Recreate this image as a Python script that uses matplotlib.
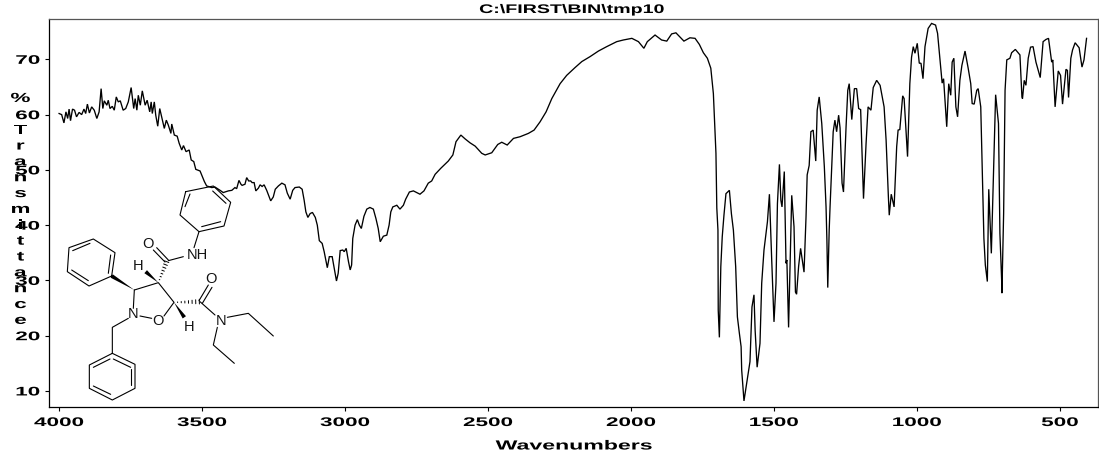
import matplotlib
matplotlib.use("Agg")
import matplotlib.pyplot as plt
import matplotlib.patheffects as pe
from matplotlib.transforms import Affine2D

title_text = r"C:\FIRST\BIN\tmp10"
x_label = "Wavenumbers"
y_letters = list("%") + [""] + list("Transmittance")
x_tick_values = [4000, 3500, 3000, 2500, 2000, 1500, 1000, 500]
y_tick_values = [10, 20, 30, 40, 50, 60, 70]

wavenumbers = [
4000,3991,3983,3976,3970,3965,3960,3953,3946,3939,3930,3921,3913,3907,3901,3894,3886,3877,3868,3860,
3853,3847,3842,3833,3828,3822,3814,3807,3800,3793,3786,3776,3767,3758,3748,3739,3734,3728,3723,3716,
3709,3699,3692,3683,3678,3674,3667,3662,3655,3648,3639,3632,3625,3618,3609,3606,3597,3587,3580,3571,
3565,3556,3545,3538,3529,3522,3507,3492,3484,3466,3455,3437,3426,3408,3396,3385,3379,3371,3364,3360,
3350,3344,3337,3330,3325,3318,3312,3303,3297,3290,3283,3274,3260,3251,3244,3233,3221,3210,3202,3192,
3183,3175,3160,3150,3143,3137,3130,3122,3114,3104,3097,3090,3080,3073,3062,3055,3045,3038,3030,3024,
3017,3008,3003,2996,2988,2982,2977,2973,2965,2957,2950,2943,2934,2924,2913,2901,2892,2884,2877,2866,
2854,2846,2840,2833,2819,2808,2796,2788,2775,2761,2738,2724,2709,2697,2685,2665,2639,2623,2612,2595,
2580,2563,2545,2522,2510,2487,2466,2452,2433,2411,2388,2359,2339,2318,2297,2277,2248,2225,2196,2172,
2143,2114,2085,2050,2027,1997,1974,1955,1943,1916,1893,1875,1858,1843,1815,1794,1776,1761,1747,1733,
1721,1712,1703,1700,1696,1695,1691,1686,1681,1675,1668,1656,1649,1642,1634,1628,1621,1615,1613,1605,
1593,1584,1577,1570,1566,1559,1549,1543,1535,1523,1516,1508,1500,1493,1488,1481,1476,1472,1464,1458,
1455,1449,1438,1430,1425,1421,1414,1407,1395,1388,1384,1377,1371,1363,1354,1349,1342,1333,1324,1318,
1315,1312,1307,1304,1299,1293,1287,1281,1274,1269,1262,1257,1248,1242,1237,1228,1219,1211,1204,1197,
1192,1187,1178,1171,1161,1153,1141,1129,1115,1108,1100,1097,1090,1080,1071,1066,1060,1050,1045,1039,
1033,1025,1019,1013,1007,999,992,986,979,972,961,949,935,928,917,912,907,896,889,882,
877,871,864,858,850,843,832,821,812,807,800,791,786,777,770,766,761,754,749,740,
731,725,715,710,704,703,697,692,686,675,669,656,640,633,631,625,619,611,603,594,
584,569,559,549,540,529,525,517,506,498,491,479,474,470,462,456,447,433,423,416,407]

transmittance = [
60.2,60.0,58.5,60.5,59.3,61.0,58.9,61.0,60.8,59.6,60.4,60.0,61.0,60.2,61.9,60.3,61.4,60.8,59.3,60.5,
64.7,61.1,62.5,61.7,62.6,61.1,61.5,60.8,63.2,62.3,62.5,60.8,61.1,62.3,64.9,61.1,62.9,60.8,63.5,61.7,
64.3,61.7,62.6,60.5,62.3,60.2,62.3,59.9,57.9,61.1,59.1,57.5,59.0,58.1,56.6,58.3,56.3,56.1,54.8,53.6,
54.4,53.3,53.6,51.8,51.5,50.1,49.8,47.9,47.1,46.8,46.9,46.3,45.9,46.2,46.3,46.8,46.6,48.1,47.4,47.2,
47.4,48.6,48.0,48.0,47.7,47.7,46.2,46.7,47.3,47.0,47.3,46.3,44.4,45.1,46.5,47.1,47.6,47.3,45.8,44.7,
46.3,46.8,46.9,46.5,44.5,42.4,41.4,42.1,42.3,41.4,40.0,37.2,36.7,35.2,32.3,34.3,34.3,32.2,29.9,31.3,
35.4,35.5,35.2,35.8,33.4,31.9,32.8,37.6,40.0,41.0,40.0,39.4,41.6,42.9,43.2,42.9,41.2,39.4,37.0,38.0,
38.2,40.0,42.4,43.3,43.6,42.9,43.6,44.7,46.0,46.2,45.6,46.2,47.6,48.0,49.2,50.3,51.6,52.7,55.1,56.3,
55.6,54.9,54.3,53.0,52.7,53.1,54.6,55.0,54.5,55.7,56.0,56.6,57.2,58.7,60.5,62.9,65.6,67.1,68.5,69.6,
70.5,71.5,72.3,73.2,73.5,73.8,73.2,72.0,73.2,74.4,73.5,73.3,74.6,74.8,73.3,73.9,73.8,72.7,71.2,70.2,
68.4,63.8,53.0,43.1,39.1,24.6,19.7,32.5,37.9,41.8,45.7,46.3,42.1,39.1,32.5,23.4,20.4,18.0,13.8,8.2,
12.3,15.3,25.2,27.4,21.0,14.3,18.6,29.5,35.5,40.6,45.6,33.7,22.5,29.5,43.9,51.0,44.5,43.3,49.7,33.1,
33.7,21.5,45.4,39.7,27.9,27.5,32.5,35.8,31.5,41.5,49.1,50.8,56.9,57.2,51.6,60.8,63.2,58.4,50.6,43.3,
37.3,28.7,39.1,43.3,49.4,56.9,59.0,56.9,59.9,57.6,47.6,46.0,57.8,64.4,65.6,59.1,64.7,64.7,61.1,60.9,
53.0,44.8,54.8,61.4,60.8,64.9,66.2,65.3,61.4,55.4,45.1,41.8,45.6,43.3,54.2,57.2,57.3,63.4,62.9,57.8,
52.4,65.6,70.4,72.3,71.1,72.9,69.3,69.3,66.5,72.3,75.6,76.5,76.2,74.7,68.6,65.7,66.5,57.8,65.6,63.5,
69.5,70.2,61.4,59.6,66.2,68.9,71.5,68.4,65.6,62.0,61.9,64.4,64.7,61.4,45.7,37.6,32.8,29.8,46.5,34.9,
52.4,63.6,58.4,38.5,30.1,27.7,42.1,64.4,69.9,70.2,71.2,71.8,70.8,63.2,62.9,66.2,65.3,70.2,72.2,72.3,
69.5,66.7,73.2,73.6,73.8,69.5,69.9,61.4,67.9,67.1,61.9,68.2,68.0,63.1,70.2,71.7,73.0,72.1,68.6,69.9,73.8]

W, H = 1099, 459
plt.rcParams["font.family"] = ["Liberation Sans", "DejaVu Sans"]


class Stretch(pe.AbstractPathEffect):
    """Widen a text horizontally about its centre or right edge."""
    def __init__(self, sx=1.65, anchor="center"):
        super().__init__()
        self.sx, self.anchor = sx, anchor

    def draw_path(self, renderer, gc, tpath, affine, rgbFace=None):
        ext = tpath.get_extents(affine)
        cx = ext.x1 if self.anchor == "right" else (ext.x0 + ext.x1) / 2
        t = affine + Affine2D().translate(-cx, 0).scale(self.sx, 1).translate(cx, 0)
        renderer.draw_path(gc, tpath, t, rgbFace)


fig = plt.figure(figsize=(W / 100, H / 100), dpi=100)
L, R, T, B = 48.5, 1098, 19, 407
ax = fig.add_axes([L / W, 1 - B / H, (R - L) / W, (B - T) / H])
ax.plot(wavenumbers, transmittance, color="black", lw=0.95, solid_joinstyle="miter", zorder=3)
ax.set_xlim(4037, 367)
ax.set_ylim(7.1, 77.3)
ax.set_xticks(x_tick_values)
ax.set_yticks(y_tick_values)
ax.tick_params(axis="both", length=3.2, width=0.8, color="black", pad=3.0, labelsize=9)
ax.tick_params(axis="x", pad=4)
for s in ["left", "bottom"]:
    ax.spines[s].set_linewidth(0.9)
for s in ["top", "right"]:
    ax.spines[s].set_linewidth(0.9)
    ax.spines[s].set_color("#555555")
for lb in ax.get_xticklabels():
    lb.set_fontweight("bold")
    lb.set_path_effects([Stretch(1.8)])
for lb in ax.get_yticklabels():
    lb.set_fontweight("bold")
    lb.set_path_effects([Stretch(1.8, "right")])


def px(x, y):
    return x / W, 1 - y / H


fig.text(*px(572, 10), title_text, ha="center", va="center", fontweight="bold",
         fontsize=9, path_effects=[Stretch(1.57)])
fig.text(*px(574, 446.5), x_label, ha="center", va="center", fontweight="bold",
         fontsize=9.5, path_effects=[Stretch(1.75)])
for i, ch in enumerate(y_letters):
    if ch:
        fig.text(*px(20.5, 99 + i * 15.85), ch, ha="center", va="center", fontweight="bold",
                 fontsize=9.5, path_effects=[Stretch(1.7)])


# molecule drawing (decoration), coordinates in reference-crop units
def z(x, y):
    return x / 3, 210 + y / 3


def fline(points, lw=0.8):
    xs, ys = zip(*[px(*z(*p)) for p in points])
    fig.add_artist(plt.Line2D(xs, ys, color="black", lw=lw, transform=fig.transFigure,
                              solid_capstyle="round", zorder=4))


def wedge(a, b, w=7):
    (ax0, ay0), (bx0, by0) = a, b
    dx, dy = bx0 - ax0, by0 - ay0
    n = (dx * dx + dy * dy) ** 0.5
    ox, oy = -dy / n * w, dx / n * w
    pts = [px(*z(*p)) for p in [a, (bx0 + ox, by0 + oy), (bx0 - ox, by0 - oy)]]
    fig.add_artist(plt.Polygon(pts, closed=True, color="black", lw=0, transform=fig.transFigure, zorder=4))


def hashed(a, b, n=7, w=10):
    (ax0, ay0), (bx0, by0) = a, b
    dx, dy = bx0 - ax0, by0 - ay0
    d = (dx * dx + dy * dy) ** 0.5
    ox, oy = -dy / d, dx / d
    for i in range(1, n + 1):
        f = i / n
        c = (ax0 + dx * f, ay0 + dy * f)
        h = w * f
        fline([(c[0] + ox * h, c[1] + oy * h), (c[0] - ox * h, c[1] - oy * h)], lw=0.7)


def ring(v, inner):
    fline(v + [v[0]])
    for s in inner:
        fline(s)


ring([(557, -55), (640, -72), (692, -23), (672, 48), (597, 65), (540, 15)],
     [[(638, -57), (678, -20)], [(555, -10), (570, -48)], [(605, 50), (662, 35)]])
ring([(335, 198), (345, 128), (280, 87), (207, 113), (202, 185), (267, 228)],
     [[(325, 190), (332, 135)], [(270, 100), (218, 122)], [(215, 180), (265, 212)]])
ring([(337, 430), (405, 463), (405, 535), (337, 570), (268, 535), (268, 465)],
     [[(340, 447), (392, 472)], [(394, 478), (394, 525)], [(332, 553), (280, 528)], [(280, 472), (330, 447)]])
fline([(597, 65), (582, 113)])
fline([(550, 140), (505, 152)])
fline([(505, 150), (470, 113)])
fline([(495, 156), (460, 120)])
fline([(403, 240), (475, 218), (522, 277), (492, 318)])
fline([(455, 325), (420, 318)])
fline([(400, 295), (403, 240)])
fline([(385, 325), (337, 352), (337, 430)])
fline([(597, 272), (625, 225)])
fline([(607, 280), (636, 232)])
fline([(600, 275), (645, 315)])
fline([(682, 322), (745, 310), (820, 378)])
fline([(652, 352), (640, 405), (703, 460)])
wedge((403, 240), (335, 198), w=6)
wedge((475, 218), (437, 185), w=6)
wedge((522, 277), (553, 322), w=6)
hashed((475, 218), (500, 155), w=7)
hashed((522, 277), (598, 275), w=7)
for (x, y, s) in [(592, 135, "NH"), (445, 103, "O"), (415, 167, "H"), (400, 313, "N"),
                  (475, 333, "O"), (567, 350, "H"), (633, 208, "O"), (662, 333, "N")]:
    fig.text(*px(*z(x, y)), s, ha="center", va="center", fontsize=10.5, color="#111111")

fig.savefig("out.png", dpi=100)
